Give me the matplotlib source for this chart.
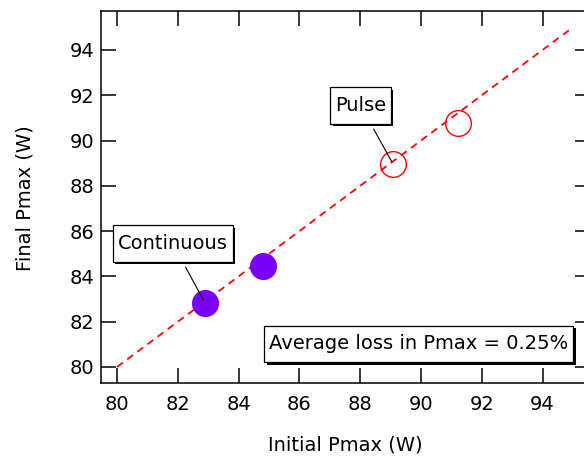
import matplotlib
matplotlib.use("Agg")
import matplotlib.pyplot as plt
import matplotlib.patheffects as pe

# data
continuous_initial = [82.89, 84.80]
continuous_final = [82.83, 84.46]
pulse_initial = [89.08, 91.22]
pulse_final = [88.96, 90.77]
fit_x = [80, 95]
fit_y = [80, 95]
ticks = [80, 82, 84, 86, 88, 90, 92, 94]

plt.rcParams["font.family"] = "DejaVu Sans"

fig = plt.figure(figsize=(5.84, 4.59), dpi=100)
ax = fig.add_axes([101 / 584, 76 / 459, 489 / 584, 372 / 459])

ax.plot(fit_x, fit_y, color="red", linestyle="--", dashes=(4, 3), linewidth=1.3)
ax.plot(continuous_initial, continuous_final, "o", markersize=19.5,
        color="#7b00f7", markeredgewidth=0)
ax.plot(pulse_initial, pulse_final, "o", markersize=18.5,
        markerfacecolor="none", markeredgecolor="red", markeredgewidth=1.0)

ax.set_xlim(79.47, 95.56)
ax.set_ylim(79.29, 95.72)
ax.set_xticks(ticks)
ax.set_yticks(ticks)
ax.tick_params(direction="in", length=10.8, width=1.1, labelsize=14,
               top=True, right=True)
ax.tick_params(axis="x", pad=9)
ax.tick_params(axis="y", pad=5)
for s in ax.spines.values():
    s.set_linewidth(1.1)

shadow = [pe.SimplePatchShadow(offset=(1.8, -1.8), shadow_rgbFace="black", alpha=1.0),
          pe.Normal()]
box = dict(boxstyle="square,pad=0.25", facecolor="white", edgecolor="black",
           linewidth=0.9, mutation_aspect=1.8)
arrow = dict(arrowstyle="-", color="black", linewidth=0.8, shrinkA=4, shrinkB=2)

a1 = ax.annotate("Continuous", xy=(continuous_initial[0], continuous_final[0]),
                 xytext=(81.83, 85.45), ha="center", va="center", fontsize=14,
                 bbox=box, arrowprops=arrow)
a2 = ax.annotate("Pulse", xy=(pulse_initial[0], pulse_final[0]),
                 xytext=(88.01, 91.55), ha="center", va="center", fontsize=14,
                 bbox=box, arrowprops=arrow)
a3 = ax.text(89.93, 81.02, "Average loss in Pmax = 0.25%", ha="center", va="center",
             fontsize=14, bbox=box)
for t in (a1, a2, a3):
    t.get_bbox_patch().set_path_effects(shadow)

fig.text(345 / 584, 1 - 445 / 459, "Initial Pmax (W)", ha="center", va="center", fontsize=14)
fig.text(25 / 584, 1 - 198 / 459, "Final Pmax (W)", ha="center", va="center",
         fontsize=14, rotation=90)

fig.savefig("out.png", dpi=100)
